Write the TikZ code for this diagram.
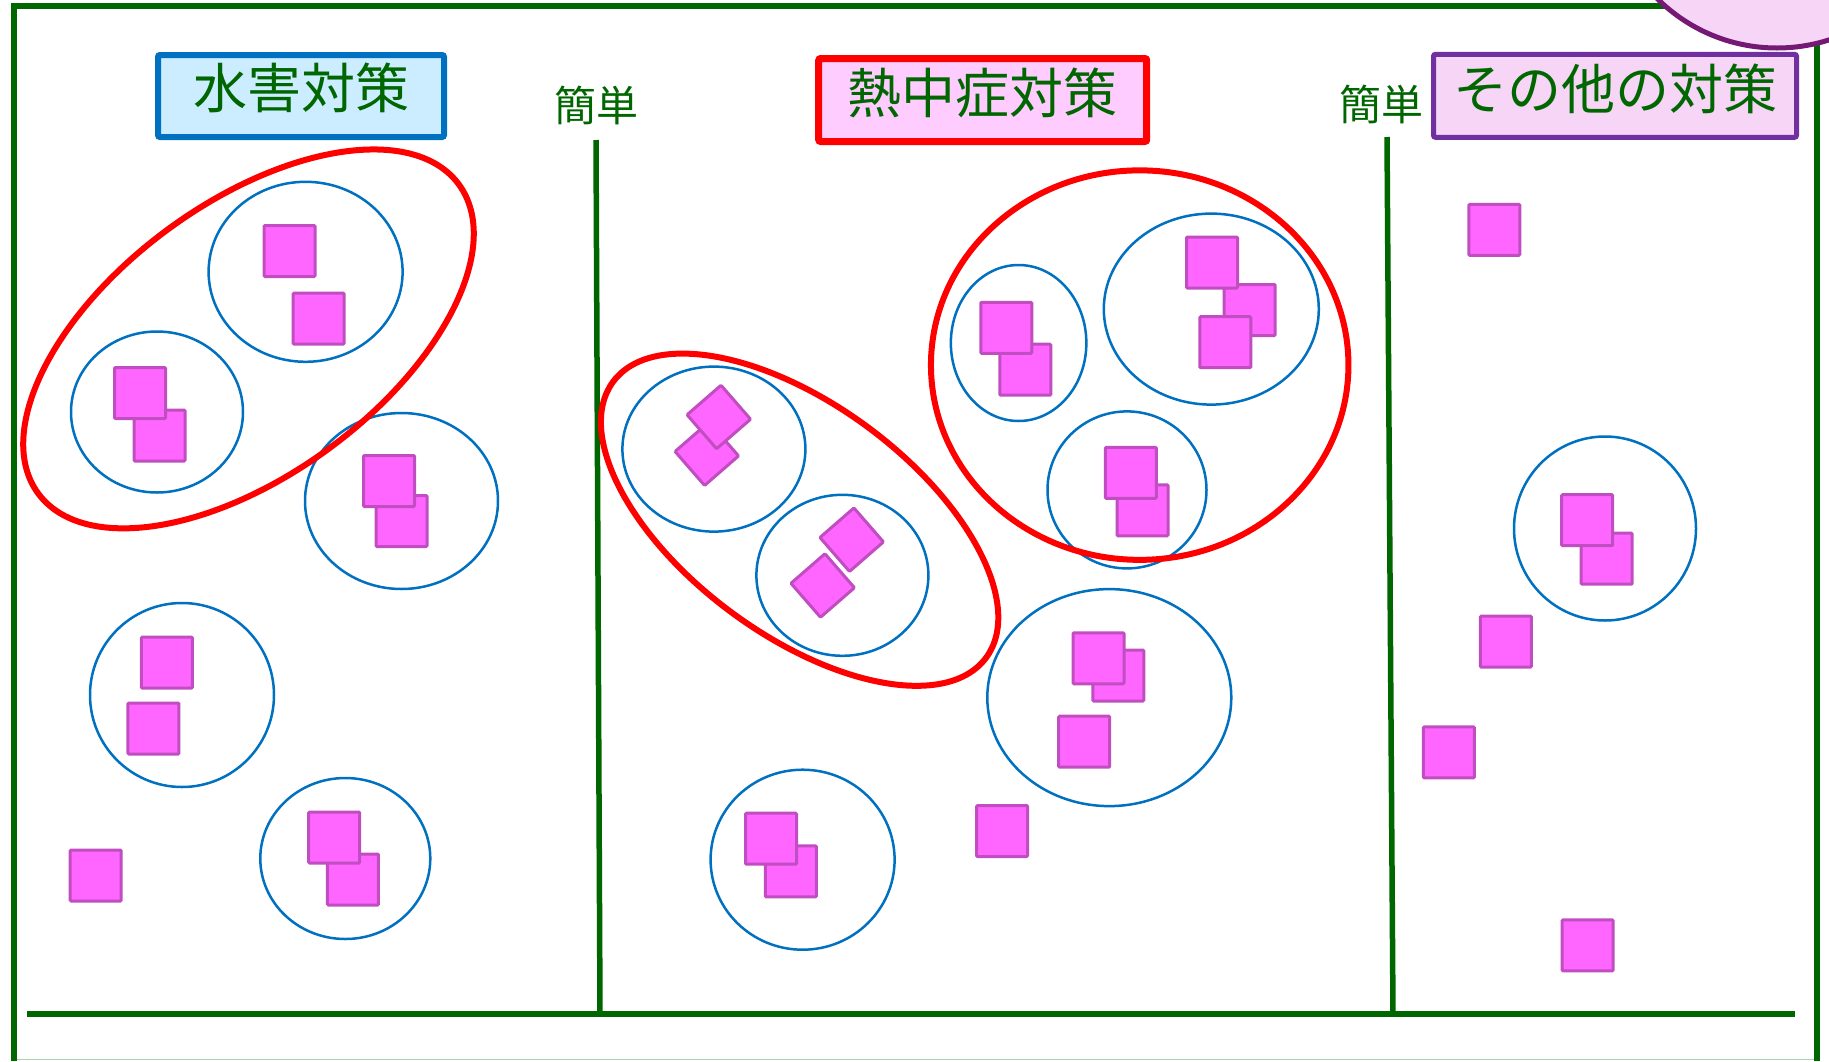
\documentclass[tikz,border=0pt]{standalone}
\usepackage{fontspec}
\newfontfamily\jp{Noto Sans CJK JP}
\usetikzlibrary{shapes.geometric}
\definecolor{fgreen}{HTML}{006600}
\definecolor{cblue}{HTML}{0070C0}
\definecolor{sqfill}{HTML}{FF66FF}
\definecolor{sqedge}{HTML}{C04EC0}
\definecolor{tblue}{HTML}{CCECFF}
\definecolor{tpink}{HTML}{FFCCFF}
\definecolor{tlav}{HTML}{F6D5F6}
\definecolor{tpurple}{HTML}{7030A0}
\definecolor{cpurple}{HTML}{741A74}
\definecolor{faint}{HTML}{A8D4A8}
\begin{document}
\begin{tikzpicture}[x=1pt,y=-1pt,
  memo/.style={draw=sqedge, fill=sqfill, line width=3pt, minimum size=51pt, inner sep=0pt, rounded corners=1pt},
  dmemo/.style={memo, minimum size=45pt, rotate=41},
  grp/.style={draw=cblue, line width=2.5pt, ellipse, inner sep=0pt},
  big/.style={draw=red, line width=6pt, ellipse, inner sep=0pt},
  frameline/.style={draw=fgreen, line width=5.5pt},
  tbox/.style={rectangle, rounded corners=2pt, inner sep=0pt},
  ttext/.style={inner sep=0pt, text=fgreen, font=\jp\fontsize{54}{60}\selectfont},
  easy/.style={inner sep=0pt, text=fgreen, font=\jp\fontsize{42}{46}\selectfont}
]
\useasboundingbox[fill=white] (0,0) rectangle (1829,1061);

% frame
\coordinate (ftl) at (14,6);
\coordinate (ftr) at (1720,6);
\coordinate (fbl) at (14,1061);
\coordinate (frt) at (1817,40);
\coordinate (frb) at (1817,1061);
\coordinate (base1) at (27,1014);
\coordinate (base2) at (1795,1014);
\coordinate (edge1) at (14,1059.5);
\coordinate (edge2) at (1817,1059.5);
\coordinate (div1t) at (596,140);
\coordinate (div1b) at (600,1014);
\coordinate (div2t) at (1387,137);
\coordinate (div2b) at (1393,1014);
\draw[faint, line width=1.5pt] (edge1) -- (edge2);
\draw[frameline] (fbl) -- (ftl) -- (ftr);
\draw[frameline] (frt) -- (frb);
\draw[frameline] (base1) -- (base2);
\draw[frameline] (div1t) -- (div1b);
\draw[frameline] (div2t) -- (div2b);

% top right circle
\node[circle, draw=cpurple, fill=tlav, line width=5pt, minimum size=340pt, inner sep=0pt] (corner) at (1777,-122) {};

% titles
\node[tbox, draw=cblue, fill=tblue, line width=6pt, minimum width=286pt, minimum height=82pt] (t1box) at (301,96) {};
\node[ttext] (t1) at (301,88) {水害対策};
\node[tbox, draw=red, fill=tpink, line width=7pt, minimum width=328pt, minimum height=83pt] (t2box) at (982.7,100) {};
\node[ttext] (t2) at (982.5,93.3) {熱中症対策};
\node[tbox, draw=tpurple, fill=tlav, line width=5pt, minimum width=363pt, minimum height=83pt] (t3box) at (1615,95.8) {};
\node[ttext] (t3) at (1615.8,89) {その他の対策};
\node[easy] (easy1) at (596,105) {簡単};
\node[easy] (easy2) at (1381.7,104) {簡単};

% blue groups
\node[grp, minimum width=194pt, minimum height=180pt] (gA) at (305.6,271.8) {};
\node[grp, minimum width=172pt, minimum height=161pt] (gB) at (157,412) {};
\node[grp, minimum width=193pt, minimum height=176pt] (gC) at (401.5,501) {};
\node[grp, minimum width=184pt, minimum height=184pt] (gD) at (182,695) {};
\node[grp, minimum width=170pt, minimum height=161pt] (gE) at (345.3,858.5) {};
\node[grp, minimum width=183pt, minimum height=165pt] (gF) at (713.9,449.1) {};
\node[grp, minimum width=172pt, minimum height=161pt] (gG) at (842.4,575.3) {};
\node[grp, minimum width=135.5pt, minimum height=156pt] (gH) at (1018.6,343) {};
\node[grp, minimum width=215pt, minimum height=191pt] (gI) at (1211.3,309.1) {};
\node[grp, minimum width=159pt, minimum height=157pt] (gJ) at (1127,489.9) {};
\node[grp, minimum width=244pt, minimum height=217pt] (gK) at (1109.3,697.6) {};
\node[grp, minimum width=184pt, minimum height=180pt] (gL) at (802.6,859.7) {};
\node[grp, minimum width=182pt, minimum height=184pt] (gM) at (1605,528.5) {};

% red groups
\node[big, minimum width=522pt, minimum height=272pt, rotate=36.3] (rA) at (248.5,338.9) {};
\node[big, minimum width=464pt, minimum height=230pt, rotate=-36.5] (rB) at (799.6,519.7) {};
\node[big, minimum width=417.5pt, minimum height=389.5pt] (rC) at (1139.7,365.1) {};

% memos - left
\node[memo] (ma1) at (289.5,251) {};
\node[memo] (ma2) at (318.6,318.6) {};
\node[memo] (mb2) at (159.5,435.5) {};
\node[memo] (mb1) at (140,393) {};
\node[memo] (mc2) at (401.5,521) {};
\node[memo] (mc1) at (389,481) {};
\node[memo] (md1) at (166.8,662.6) {};
\node[memo] (md2) at (153.4,728.5) {};
\node[memo] (me2) at (352.9,879.5) {};
\node[memo] (me1) at (334.2,837.5) {};
\node[memo] (ms1) at (95.7,875.5) {};

% memos - middle
\node[dmemo] (mf2) at (706.8,453.7) {};
\node[dmemo] (mf1) at (718.8,417) {};
\node[dmemo] (mg1) at (851.7,539.7) {};
\node[dmemo] (mg2) at (822.7,585.5) {};
\node[memo] (mh2) at (1025.3,369.7) {};
\node[memo] (mh1) at (1006.3,327.8) {};
\node[memo] (mi2) at (1249.7,310) {};
\node[memo] (mi3) at (1225.3,342.2) {};
\node[memo] (mi1) at (1212,262.5) {};
\node[memo] (mj2) at (1142.5,510.3) {};
\node[memo] (mj1) at (1130.8,472.8) {};
\node[memo] (mk2) at (1118.3,675.5) {};
\node[memo] (mk1) at (1098.5,658.3) {};
\node[memo] (mk3) at (1084.2,741.7) {};
\node[memo] (ml2) at (790.9,871.4) {};
\node[memo] (ml1) at (771,838.7) {};
\node[memo] (ms2) at (1002,831.1) {};

% memos - right
\node[memo] (ms3) at (1494.3,229.8) {};
\node[memo] (mm2) at (1606.7,558.7) {};
\node[memo] (mm1) at (1587.2,520.2) {};
\node[memo] (ms4) at (1505.9,641.6) {};
\node[memo] (ms5) at (1448.8,752.4) {};
\node[memo] (ms6) at (1587.6,945.4) {};
\end{tikzpicture}
\end{document}
